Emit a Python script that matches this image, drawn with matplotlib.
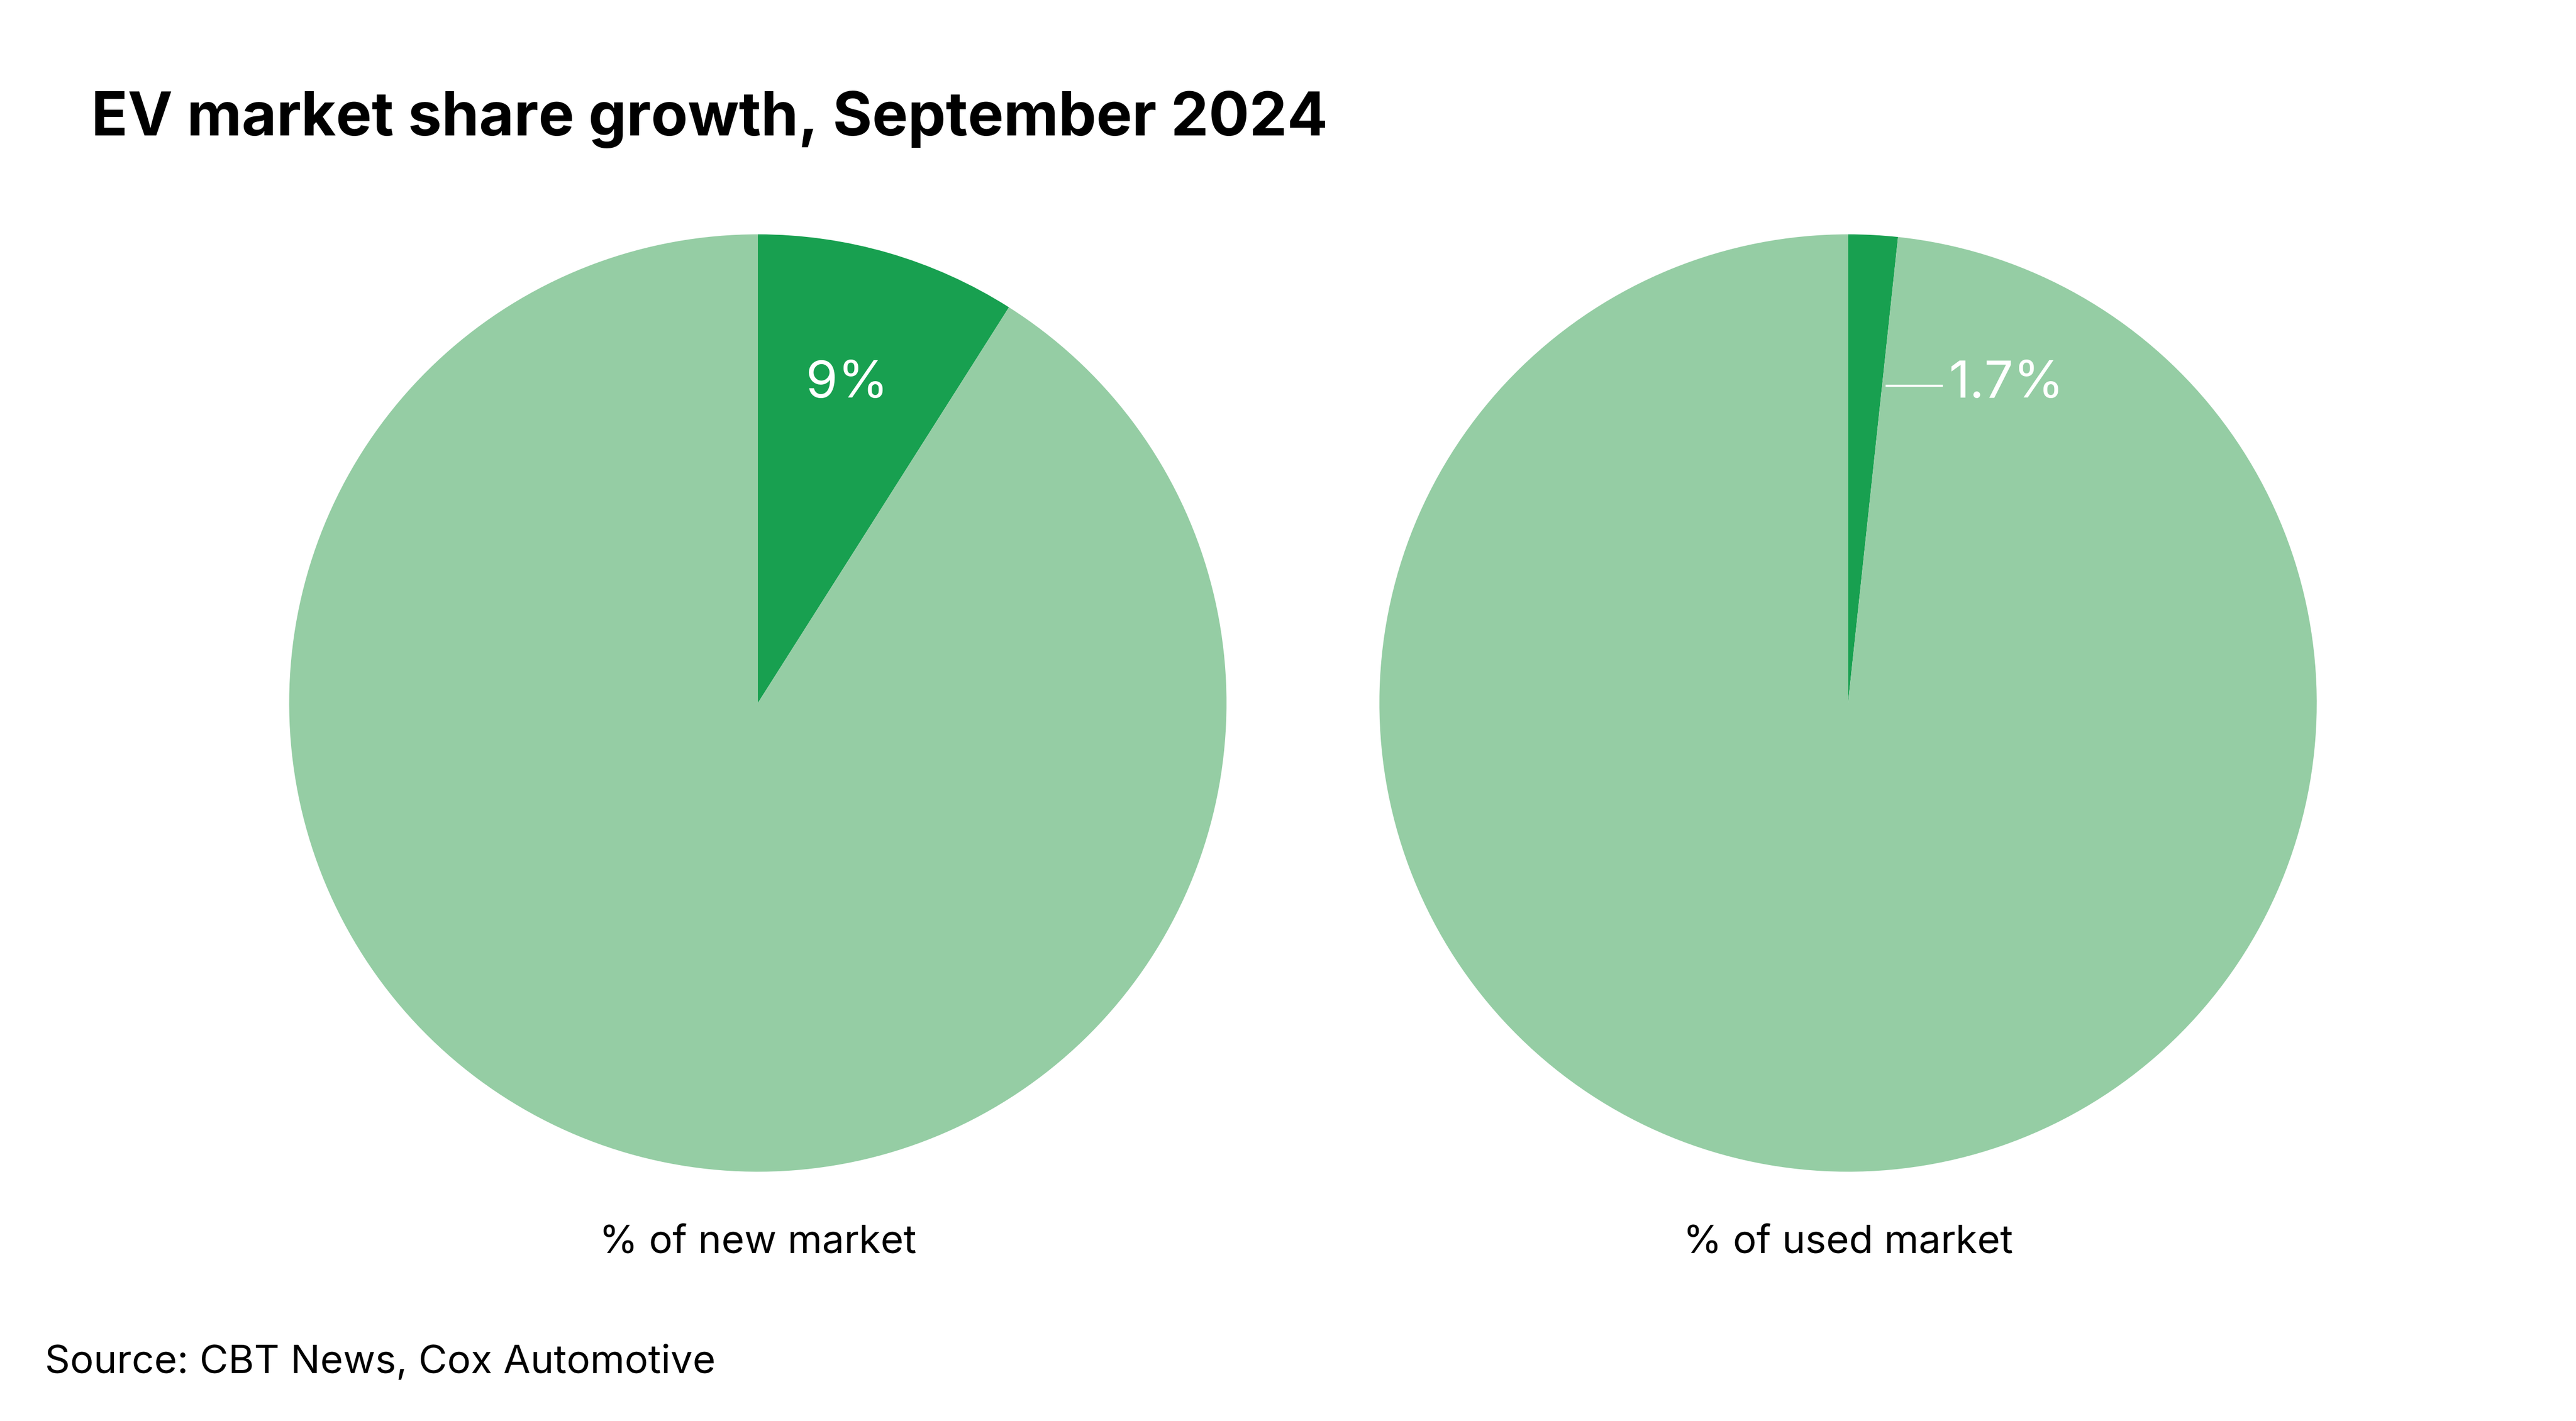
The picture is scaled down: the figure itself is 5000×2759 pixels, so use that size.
import matplotlib
matplotlib.use("Agg")
from matplotlib import pyplot as plt

plt.rcParams['font.family'] = ['Inter', 'DejaVu Sans']

DARK = '#18a050'
LIGHT = '#95cda4'

title = "EV market share growth, September 2024"
source = "Source: CBT News, Cox Automotive"
pie_labels = ["% of new market", "% of used market"]
ev_share = [9.0, 1.7]
ev_text = ["9%", "1.7%"]

fig = plt.figure(figsize=(50, 27.59), dpi=100)
W, H = 1550, 855  # reference layout units
r = 282
centers = [(456, 423), (1112, 423)]

for i, (cx, cy) in enumerate(centers):
    ax = fig.add_axes([(cx - r) / W, 1 - (cy + r) / H, 2 * r / W, 2 * r / H])
    ax.pie([ev_share[i], 100 - ev_share[i]], colors=[DARK, LIGHT],
           startangle=90, counterclock=False, radius=1)
    ax.set_xlim(-1, 1)
    ax.set_ylim(-1, 1)
    ax.set_aspect('auto')
    ax.axis('off')
    if i == 0:
        ax.text(0.19, 0.68, ev_text[i], color='white', fontsize=72,
                ha='center', va='center')
    else:
        ax.plot([0.082, 0.2], [0.677, 0.677], color='white', lw=3)
        ax.text(0.215, 0.68, ev_text[i], color='white', fontsize=72,
                ha='left', va='center')
    fig.text(cx / W, 1 - 748 / H, pie_labels[i], fontsize=55,
             ha='center', va='center')

fig.text(55 / W, 1 - 72 / H, title, fontsize=84, fontweight='bold',
         ha='left', va='center')
fig.text(27 / W, 1 - 820 / H, source, fontsize=55, ha='left', va='center')

fig.savefig('out.png', facecolor='white')
